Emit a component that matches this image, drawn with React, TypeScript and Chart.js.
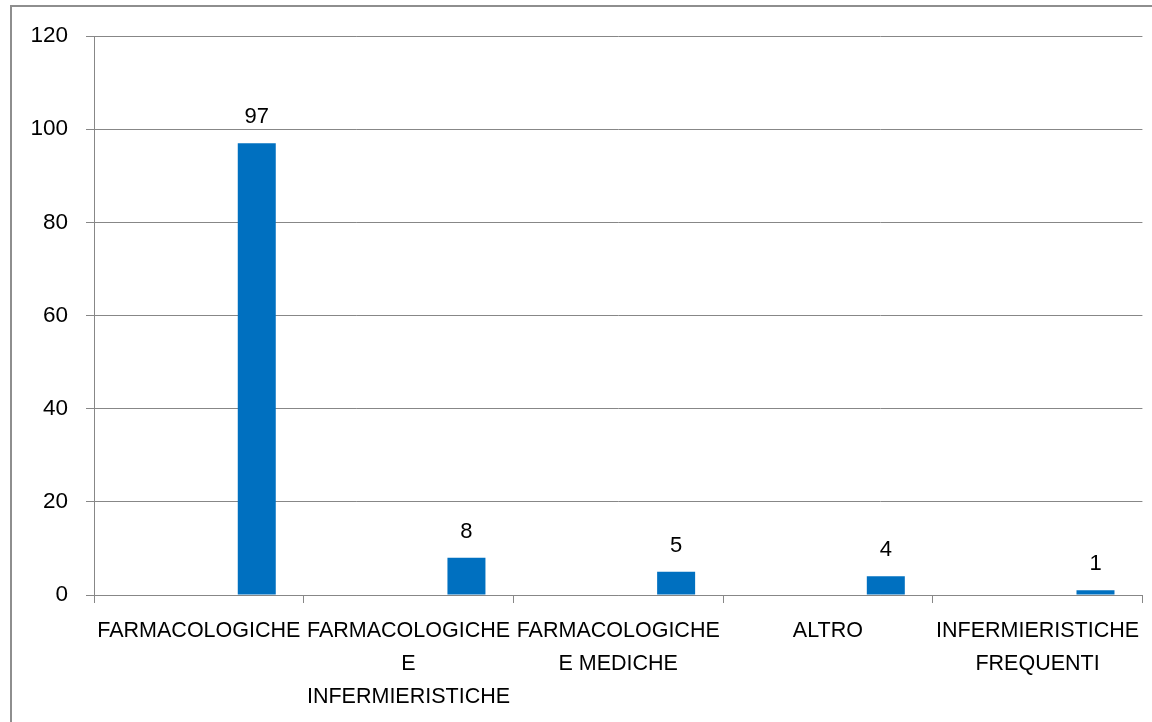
import React, { useEffect, useRef } from "react";
import { Chart, registerables } from "chart.js";

Chart.register(...registerables);

const categories: (string | string[])[] = [
  "FARMACOLOGICHE",
  ["FARMACOLOGICHE", "E", "INFERMIERISTICHE"],
  ["FARMACOLOGICHE", "E MEDICHE"],
  "ALTRO",
  ["INFERMIERISTICHE", "FREQUENTI"],
];
const emptySeries: (number | null)[] = [null, null, null, null, null];
const values: number[] = [97, 8, 5, 4, 1];
const yTicks: number[] = [0, 20, 40, 60, 80, 100, 120];

const FONT = "'Liberation Sans', Arial, sans-serif";
const GRID = "#878787";

const labelPlugin = {
  id: "valueLabels",
  afterDatasetsDraw(chart: any) {
    const ctx = chart.ctx;
    const meta = chart.getDatasetMeta(1);
    ctx.save();
    ctx.font = `22px ${FONT}`;
    ctx.fillStyle = "#000";
    ctx.textAlign = "center";
    ctx.textBaseline = "alphabetic";
    meta.data.forEach((el: any, i: number) => {
      ctx.fillText(String(values[i]), el.x, el.y - 20);
    });
    ctx.restore();
  },
};

export default function App() {
  const ref = useRef<HTMLCanvasElement | null>(null);
  useEffect(() => {
    if (!ref.current) return;
    const chart = new Chart(ref.current, {
      type: "bar",
      data: {
        labels: categories,
        datasets: [
          { label: "", data: emptySeries, backgroundColor: "#0070C0" },
          { label: "Valori", data: values, backgroundColor: "#0070C0" },
        ],
      },
      options: {
        responsive: false,
        animation: false,
        events: [],
        layout: { padding: { top: 36, right: 9, left: 0, bottom: 0 } },
        plugins: { legend: { display: false }, tooltip: { enabled: false } },
        datasets: { bar: { categoryPercentage: 1.105, barPercentage: 0.328 } },
        scales: {
          x: {
            afterFit: (s: any) => {
              s.height = 127;
            },
            grid: {
              display: true,
              drawOnChartArea: false,
              drawTicks: true,
              tickLength: 8,
              color: GRID,
              offset: true,
            },
            border: { display: true, color: GRID, width: 1 },
            ticks: {
              font: { family: FONT, size: 21.5, lineHeight: 1.52 },
              color: "#000",
              padding: 12,
              maxRotation: 0,
              autoSkip: false,
            },
          },
          y: {
            min: 0,
            max: 120,
            afterFit: (s: any) => {
              s.width = 94;
            },
            afterBuildTicks: (s: any) => {
              s.ticks = yTicks.map((v) => ({ value: v }));
            },
            grid: { color: GRID, tickLength: 8, lineWidth: 1 },
            border: { display: true, color: GRID, width: 1 },
            ticks: {
              font: { family: FONT, size: 22.5 },
              color: "#000",
              padding: 18,
            },
          },
        },
      },
      plugins: [labelPlugin],
    });
    return () => chart.destroy();
  }, []);

  return (
    <div
      style={{
        position: "fixed",
        left: 0,
        top: 0,
        width: 1152,
        height: 722,
        overflow: "hidden",
        background: "#fff",
      }}
    >
      <div
        style={{
          position: "absolute",
          left: 10,
          top: 5,
          width: 1200,
          height: 800,
          border: "2px solid #8e8e8e",
        }}
      />
      <canvas
        ref={ref}
        width={1152}
        height={722}
        style={{ position: "absolute", left: 0, top: 0, width: 1152, height: 722 }}
      />
    </div>
  );
}
